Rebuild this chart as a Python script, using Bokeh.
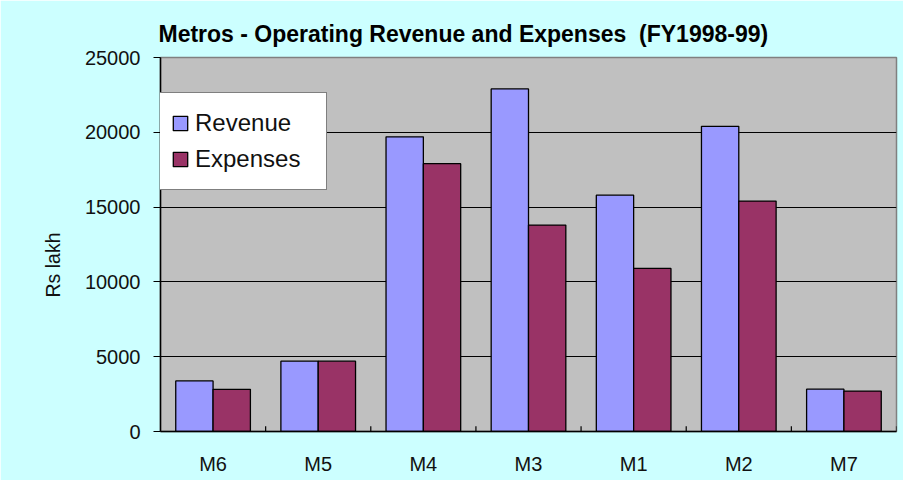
import math
from bokeh.plotting import figure
from bokeh.models import (ColumnDataSource, FactorRange, FixedTicker, Legend, LegendItem,
                          Title)
from bokeh.transform import dodge
from bokeh.embed import file_html
from bokeh.resources import INLINE

categories = ["M6", "M5", "M4", "M3", "M1", "M2", "M7"]
revenue = [3380, 4700, 19700, 22900, 15800, 20400, 2830]
expenses = [2820, 4700, 17900, 13800, 10900, 15400, 2700]
y_ticks = [0, 5000, 10000, 15000, 20000, 25000]
grid_ticks = [5000, 10000, 15000, 20000]

FONT = "Liberation Sans"

src = ColumnDataSource(dict(cat=categories, rev=revenue, exp=expenses,
                            zero=[0] * len(categories),
                            tick_top=[350] * len(categories)))

p = figure(x_range=FactorRange(*categories, range_padding=0), y_range=(0, 25000),
           width=903, height=480, output_backend="svg", toolbar_location=None,
           min_border_left=160, min_border_right=7, min_border_top=57, min_border_bottom=49)

p.border_fill_color = "#CCFFFF"
p.background_fill_color = "#C0C0C0"
p.outline_line_color = "#808080"
p.outline_line_width = 1.5

r_rev = p.vbar(x=dodge("cat", -0.1775, range=p.x_range), top="rev", width=0.355, source=src,
               fill_color="#9999FF", line_color="black", line_width=1.3)
r_exp = p.vbar(x=dodge("cat", 0.1775, range=p.x_range), top="exp", width=0.355, source=src,
               fill_color="#993366", line_color="black", line_width=1.3)

# category separator ticks (inside, at category boundaries)
p.segment(x0=dodge("cat", 0.5, range=p.x_range), y0="zero",
          x1=dodge("cat", 0.5, range=p.x_range), y1="tick_top",
          source=src, line_color="black", line_width=1.2)

# title
p.title.text = "Metros - Operating Revenue and Expenses\u00a0 (FY1998-99)"
p.title.text_font = FONT
p.title.text_font_style = "bold"
p.title.text_font_size = "23px"
p.title.text_color = "black"
p.title.align = "left"
p.title.offset = -2
p.title.standoff = 21

# y axis
p.yaxis.ticker = FixedTicker(ticks=y_ticks)
p.yaxis.major_label_text_font = FONT
p.yaxis.major_label_text_font_size = "20px"
p.yaxis.major_label_text_color = "#111111"
p.yaxis.major_tick_in = 0
p.yaxis.major_tick_out = 7
p.yaxis.major_tick_line_color = "black"
p.yaxis.minor_tick_line_color = None
p.yaxis.major_label_standoff = 13
p.yaxis.axis_line_color = "black"
p.yaxis.axis_line_width = 1.5

# x axis
p.xaxis.major_label_text_font = FONT
p.xaxis.major_label_text_font_size = "20px"
p.xaxis.major_label_text_color = "#111111"
p.xaxis.major_tick_line_color = None
p.xaxis.major_tick_out = 0
p.xaxis.major_label_standoff = 21
p.xaxis.axis_line_color = "black"
p.xaxis.axis_line_width = 1.5

# grid
p.xgrid.grid_line_color = None
p.ygrid.ticker = FixedTicker(ticks=grid_ticks)
p.ygrid.grid_line_color = "black"
p.ygrid.grid_line_width = 1.2

# y axis title as a left-side title, shifted slightly below centre
ytitle = Title(text="Rs lakh", align="left", offset=134, standoff=36,
               text_font=FONT, text_font_size="19.5px", text_font_style="normal",
               text_color="#111111")
p.add_layout(ytitle, "left")

legend = Legend(items=[LegendItem(label="Revenue", renderers=[r_rev]),
                       LegendItem(label="Expenses", renderers=[r_exp])],
                location=(-6, 241))
legend.background_fill_color = "white"
legend.background_fill_alpha = 1
legend.border_line_color = "black"
legend.border_line_width = 1.5
legend.label_text_font = FONT
legend.label_text_font_size = "24px"
legend.label_text_color = "#111111"
legend.glyph_width = 18
legend.glyph_height = 18
legend.padding = 16
legend.spacing = 8
legend.label_standoff = 6
legend.label_width = 115
legend.label_height = 24
legend.margin = 0
p.add_layout(legend, "center")

open("out.html", "w").write(file_html(p, INLINE))
